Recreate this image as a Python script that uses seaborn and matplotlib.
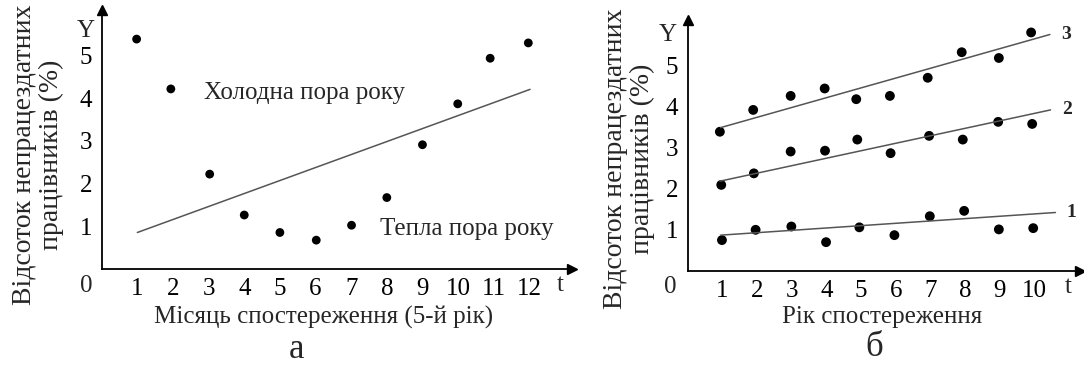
import numpy as np
import pandas as pd
import matplotlib.pyplot as plt
import seaborn as sns

# panel a: months of the 5th year
month = [0.98, 1.94, 3.03, 4.0, 5.0, 6.02, 7.01, 8.0, 9.0, 9.99, 10.9, 11.97]
share_month = [5.39, 4.22, 2.22, 1.26, 0.85, 0.67, 1.02, 1.67, 2.91, 3.87, 4.94, 5.30]
trend_a_t = [1.0, 12.02]
trend_a_y = [0.85, 4.21]

# panel b: years, three groups
year_1 = [0.99, 1.96, 2.99, 3.99, 4.95, 5.96, 6.98, 7.97, 8.97, 9.96]
share_1 = [0.75, 1.00, 1.08, 0.70, 1.06, 0.87, 1.33, 1.46, 1.01, 1.04]
year_2 = [0.97, 1.91, 2.97, 3.96, 4.89, 5.85, 6.96, 7.93, 8.95, 9.93]
share_2 = [2.09, 2.37, 2.90, 2.92, 3.19, 2.86, 3.28, 3.19, 3.62, 3.57]
year_3 = [0.93, 1.89, 2.97, 3.95, 4.86, 5.83, 6.92, 7.90, 8.97, 9.90]
share_3 = [3.38, 3.91, 4.25, 4.43, 4.17, 4.25, 4.69, 5.31, 5.17, 5.79]
trend_b_t = [[0.95, 10.6], [0.93, 10.46], [0.95, 10.44]]
trend_b_y = [[0.87, 1.42], [2.18, 3.91], [3.48, 5.74]]
trend_b_names = ['1', '2', '3']

sns.set_style("white")
plt.rcParams['font.family'] = ['Liberation Serif', 'DejaVu Serif']

W, H = 1084, 365
fig = plt.figure(figsize=(W / 100, H / 100), dpi=100)


def px_axes(x0, y0, x1, y1):
    return fig.add_axes([x0 / W, 1 - y1 / H, (x1 - x0) / W, (y1 - y0) / H])


def px_text(x, y, s, **kw):
    fig.text(x / W, 1 - y / H, s, **kw)


def style_axes(ax, xticks):
    sns.despine(ax=ax, top=True, right=True)
    for sp in ['left', 'bottom']:
        ax.spines[sp].set_color('black')
        ax.spines[sp].set_linewidth(1.3)
    ax.set_xticks(xticks)
    ax.set_yticks([1, 2, 3, 4, 5])
    ax.tick_params(axis='x', direction='out', length=6, width=1,
                   pad=0.5, labelsize=18, colors='black')
    ax.tick_params(axis='y', direction='out', length=4, width=1,
                   pad=3, labelsize=18, colors='black')
    ax.set_xlabel('')
    ax.set_ylabel('')
    # arrow heads at the axis ends
    ax.plot(1, 0, '>k', ms=7, transform=ax.transAxes, clip_on=False)
    ax.plot(0, 1, '^k', ms=7, transform=ax.transAxes, clip_on=False)


# ---- panel a
ax1 = px_axes(101.7, 10, 572, 268.7)
ax1.set_xlim(0, (572 - 101.7) / 35.64)
ax1.set_ylim(0, (268.7 - 10) / 42.6)
sns.lineplot(x=trend_a_t, y=trend_a_y, ax=ax1, color='#555555', lw=1.1)
sns.scatterplot(x=month, y=share_month, ax=ax1, color='black', s=40,
                marker='o', edgecolor='none')
style_axes(ax1, list(range(1, 13)))

px_text(204, 99, 'Холодна пора року', fontsize=18, va='baseline')
px_text(380, 235, 'Тепла пора року', fontsize=18, va='baseline')
px_text(86, 31, 'Y', fontsize=18, ha='center', va='center')
px_text(86, 286, '0', fontsize=18, ha='center', va='center')
px_text(560, 285, 't', fontsize=18, ha='center', va='center')
px_text(38, 155, 'Відсоток непрацездатних\nпрацівників (%)', fontsize=20,
        rotation=90, ha='center', va='center', linespacing=1.1)
px_text(324, 317, 'Місяць спостереження (5-й рік)', fontsize=18,
        ha='center', va='center')
px_text(296, 350, 'а', fontsize=25, ha='center', va='center')

# ---- panel b
ax2 = px_axes(687.6, 20, 1080, 271)
ax2.set_xlim(0, (1080 - 687.6) / 34.7)
ax2.set_ylim(0, (271 - 20) / 41.2)
for t, y in zip(trend_b_t, trend_b_y):
    sns.lineplot(x=t, y=y, ax=ax2, color='#555555', lw=1.1)
for t, y in [(year_1, share_1), (year_2, share_2), (year_3, share_3)]:
    sns.scatterplot(x=t, y=y, ax=ax2, color='black', s=50, marker='o',
                    edgecolor='none')
style_axes(ax2, list(range(1, 11)))

for name, t, y in zip(trend_b_names, trend_b_t, trend_b_y):
    ax2.annotate(name, (t[1], y[1]), xytext=(8, 0), textcoords='offset points',
                 fontsize=14, fontweight='bold', va='center', ha='left')

px_text(668, 35, 'Y', fontsize=18, ha='center', va='center')
px_text(670, 287, '0', fontsize=18, ha='center', va='center')
px_text(1068, 287, 't', fontsize=18, ha='center', va='center')
px_text(629, 159, 'Відсоток непрацездатних\nпрацівників (%)', fontsize=20,
        rotation=90, ha='center', va='center', linespacing=1.1)
px_text(882, 317, 'Рік спостереження', fontsize=18, ha='center', va='center')
px_text(874, 348, 'б', fontsize=25, ha='center', va='center')

fig.savefig('out.png', dpi=100)
